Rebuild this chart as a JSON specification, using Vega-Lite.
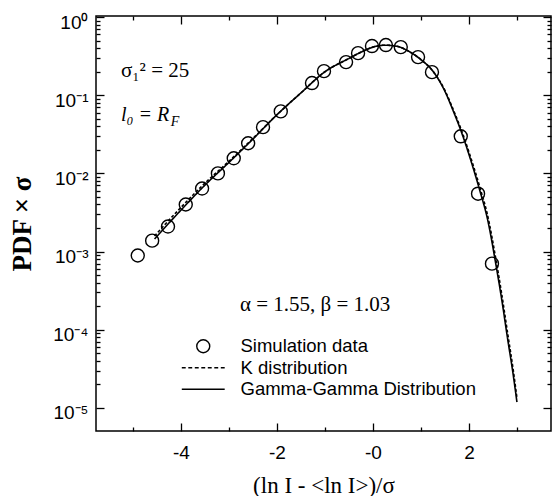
{
  "$schema": "https://vega.github.io/schema/vega-lite/v6.json",
  "width": 455,
  "height": 415,
  "autosize": {"type": "none"},
  "padding": {"left": 96, "top": 16, "right": 1, "bottom": 65},
  "background": "white",
  "config": {
    "view": {"stroke": "black", "strokeWidth": 1.5},
    "axis": {
      "domain": false,
      "grid": false,
      "tickColor": "black",
      "tickWidth": 1.3,
      "labelColor": "black",
      "labelFont": "Liberation Sans",
      "labelFontSize": 19,
      "titleColor": "black"
    }
  },
  "datasets": {
    "sim": [
      {"x": -4.9, "y": 0.00089, "series": "Simulation data"},
      {"x": -4.6, "y": 0.00138, "series": "Simulation data"},
      {"x": -4.27, "y": 0.00209, "series": "Simulation data"},
      {"x": -3.9, "y": 0.004, "series": "Simulation data"},
      {"x": -3.56, "y": 0.0064, "series": "Simulation data"},
      {"x": -3.23, "y": 0.01, "series": "Simulation data"},
      {"x": -2.9, "y": 0.0156, "series": "Simulation data"},
      {"x": -2.6, "y": 0.0243, "series": "Simulation data"},
      {"x": -2.29, "y": 0.039, "series": "Simulation data"},
      {"x": -1.92, "y": 0.062, "series": "Simulation data"},
      {"x": -1.27, "y": 0.143, "series": "Simulation data"},
      {"x": -1.02, "y": 0.203, "series": "Simulation data"},
      {"x": -0.56, "y": 0.265, "series": "Simulation data"},
      {"x": -0.31, "y": 0.345, "series": "Simulation data"},
      {"x": -0.02, "y": 0.425, "series": "Simulation data"},
      {"x": 0.27, "y": 0.438, "series": "Simulation data"},
      {"x": 0.58, "y": 0.412, "series": "Simulation data"},
      {"x": 0.94, "y": 0.307, "series": "Simulation data"},
      {"x": 1.23, "y": 0.197, "series": "Simulation data"},
      {"x": 1.83, "y": 0.0298, "series": "Simulation data"},
      {"x": 2.19, "y": 0.0055, "series": "Simulation data"},
      {"x": 2.48, "y": 0.0007, "series": "Simulation data"}
    ],
    "curves": [
      {"x": -4.55, "y": 0.00145, "series": "Gamma-Gamma Distribution"},
      {"x": -4.0, "y": 0.00339, "series": "Gamma-Gamma Distribution"},
      {"x": -3.5, "y": 0.00708, "series": "Gamma-Gamma Distribution"},
      {"x": -3.0, "y": 0.0138, "series": "Gamma-Gamma Distribution"},
      {"x": -2.5, "y": 0.0275, "series": "Gamma-Gamma Distribution"},
      {"x": -2.0, "y": 0.0562, "series": "Gamma-Gamma Distribution"},
      {"x": -1.5, "y": 0.107, "series": "Gamma-Gamma Distribution"},
      {"x": -1.0, "y": 0.1995, "series": "Gamma-Gamma Distribution"},
      {"x": -0.5, "y": 0.295, "series": "Gamma-Gamma Distribution"},
      {"x": -0.25, "y": 0.355, "series": "Gamma-Gamma Distribution"},
      {"x": 0.0, "y": 0.412, "series": "Gamma-Gamma Distribution"},
      {"x": 0.25, "y": 0.436, "series": "Gamma-Gamma Distribution"},
      {"x": 0.5, "y": 0.422, "series": "Gamma-Gamma Distribution"},
      {"x": 0.75, "y": 0.363, "series": "Gamma-Gamma Distribution"},
      {"x": 1.0, "y": 0.285, "series": "Gamma-Gamma Distribution"},
      {"x": 1.25, "y": 0.203, "series": "Gamma-Gamma Distribution"},
      {"x": 1.5, "y": 0.112, "series": "Gamma-Gamma Distribution"},
      {"x": 1.667, "y": 0.0643, "series": "Gamma-Gamma Distribution"},
      {"x": 1.875, "y": 0.0298, "series": "Gamma-Gamma Distribution"},
      {"x": 2.02, "y": 0.016, "series": "Gamma-Gamma Distribution"},
      {"x": 2.25, "y": 0.00538, "series": "Gamma-Gamma Distribution"},
      {"x": 2.375, "y": 0.00281, "series": "Gamma-Gamma Distribution"},
      {"x": 2.5625, "y": 0.000681, "series": "Gamma-Gamma Distribution"},
      {"x": 2.6875, "y": 0.000235, "series": "Gamma-Gamma Distribution"},
      {"x": 2.8125, "y": 0.0000723, "series": "Gamma-Gamma Distribution"},
      {"x": 2.917, "y": 0.0000281, "series": "Gamma-Gamma Distribution"},
      {"x": 3.0, "y": 0.0000119, "series": "Gamma-Gamma Distribution"},
      {"x": -4.55, "y": 0.001585, "series": "K distribution"},
      {"x": -4.0, "y": 0.00367, "series": "K distribution"},
      {"x": -3.5, "y": 0.0075, "series": "K distribution"},
      {"x": -3.0, "y": 0.0143, "series": "K distribution"},
      {"x": -2.5, "y": 0.028, "series": "K distribution"},
      {"x": -2.0, "y": 0.0562, "series": "K distribution"},
      {"x": -1.5, "y": 0.107, "series": "K distribution"},
      {"x": -1.0, "y": 0.1995, "series": "K distribution"},
      {"x": -0.5, "y": 0.295, "series": "K distribution"},
      {"x": -0.25, "y": 0.355, "series": "K distribution"},
      {"x": 0.0, "y": 0.412, "series": "K distribution"},
      {"x": 0.25, "y": 0.436, "series": "K distribution"},
      {"x": 0.5, "y": 0.422, "series": "K distribution"},
      {"x": 0.75, "y": 0.363, "series": "K distribution"},
      {"x": 1.0, "y": 0.285, "series": "K distribution"},
      {"x": 1.25, "y": 0.203, "series": "K distribution"},
      {"x": 1.5, "y": 0.115, "series": "K distribution"},
      {"x": 1.667, "y": 0.0668, "series": "K distribution"},
      {"x": 1.875, "y": 0.0316, "series": "K distribution"},
      {"x": 2.02, "y": 0.0172, "series": "K distribution"},
      {"x": 2.25, "y": 0.00596, "series": "K distribution"},
      {"x": 2.375, "y": 0.00316, "series": "K distribution"},
      {"x": 2.5625, "y": 0.000794, "series": "K distribution"},
      {"x": 2.6875, "y": 0.000275, "series": "K distribution"},
      {"x": 2.8125, "y": 0.0000851, "series": "K distribution"},
      {"x": 2.917, "y": 0.0000324, "series": "K distribution"},
      {"x": 3.0, "y": 0.0000135, "series": "K distribution"}
    ]
  },
  "layer": [
    {
      "data": {"name": "curves"},
      "mark": {"type": "line", "color": "black", "strokeWidth": 1.6, "interpolate": "monotone"},
      "encoding": {
        "x": {
          "field": "x", "type": "quantitative",
          "scale": {"domain": [-5.77, 3.71], "nice": false, "zero": false},
          "axis": {
            "orient": "bottom",
            "values": [-4, -2, 0, 2],
            "labelExpr": "datum.value == 0 ? '-0' : toString(datum.value)",
            "tickSize": 8,
            "offset": -8,
            "labelPadding": 12,
            "title": "(ln I - <ln I>)/σ",
            "titleFont": "Liberation Serif",
            "titleFontSize": 23,
            "titleFontWeight": "normal",
            "titlePadding": 12
          }
        },
        "y": {
          "field": "y", "type": "quantitative",
          "scale": {"type": "log", "domain": [0.00000507, 1.03], "nice": false},
          "axis": {
            "orient": "left",
            "values": [0.00001, 0.0001, 0.001, 0.01, 0.1, 1],
            "labelExpr": "'10' + ['⁰','⁻¹','⁻²','⁻³','⁻⁴','⁻⁵'][round(-log(datum.value)/LN10)]",
            "tickSize": 8,
            "offset": -8,
            "labelPadding": 8,
            "labelOffset": 5,
            "title": "PDF × σ",
            "titleFont": "Liberation Serif",
            "titleFontSize": 27,
            "titleFontWeight": "bold",
            "titlePadding": 16
          }
        },
        "strokeDash": {
          "field": "series", "type": "nominal",
          "scale": {"domain": ["K distribution", "Gamma-Gamma Distribution"], "range": [[3, 2], [1, 0]]},
          "legend": null
        }
      }
    },
    {
      "data": {"name": "sim"},
      "mark": {"type": "point", "filled": false, "color": "black", "size": 169, "strokeWidth": 1.4, "opacity": 1},
      "encoding": {
        "x": {
          "field": "x", "type": "quantitative",
          "axis": {"orient": "top", "values": [-4, -2, 0, 2], "labels": false, "tickSize": 8, "offset": -8, "title": null}
        },
        "y": {
          "field": "y", "type": "quantitative",
          "axis": {"orient": "right", "values": [0.00001, 0.0001, 0.001, 0.01, 0.1, 1], "labels": false, "tickSize": 8, "offset": -8, "title": null}
        },
        "shape": {
          "field": "series", "type": "nominal",
          "scale": {
            "domain": ["Simulation data", "K distribution", "Gamma-Gamma Distribution"],
            "range": ["circle", "M-3.3,0H-2.7M-2.3,0H-1.7M-1.3,0H-0.7M-0.3,0H0.3M0.7,0H1.3M1.7,0H2.3M2.7,0H3.3", "M-3.3,0H3.3"]
          },
          "legend": {
            "orient": "none",
            "legendX": 98,
            "legendY": 321,
            "title": null,
            "labelFont": "Liberation Sans",
            "labelFontSize": 18.5,
            "labelColor": "black",
            "labelOffset": 28,
            "labelLimit": 400,
            "symbolSize": 169,
            "symbolStrokeWidth": 1.4,
            "symbolStrokeColor": "black",
            "symbolFillColor": "transparent",
            "rowPadding": 2.5
          }
        }
      }
    },
    {
      "data": {"values": [{}]},
      "mark": {"type": "text", "font": "Liberation Serif", "fontSize": 21, "align": "left", "baseline": "alphabetic", "color": "black"},
      "encoding": {
        "x": {
          "datum": -5.25, "type": "quantitative",
          "axis": {"orient": "bottom", "values": [-5, -3, -1, 1, 3], "labels": false, "tickSize": 4, "offset": -4, "title": null}
        },
        "y": {
          "datum": 0.17, "type": "quantitative",
          "axis": {
            "orient": "left",
            "values": [0.00002, 0.00003, 0.00004, 0.00005, 0.00006, 0.00007, 0.00008, 0.00009,
                       0.0002, 0.0003, 0.0004, 0.0005, 0.0006, 0.0007, 0.0008, 0.0009,
                       0.002, 0.003, 0.004, 0.005, 0.006, 0.007, 0.008, 0.009,
                       0.02, 0.03, 0.04, 0.05, 0.06, 0.07, 0.08, 0.09,
                       0.2, 0.3, 0.4, 0.5, 0.6, 0.7, 0.8, 0.9],
            "labels": false, "tickSize": 4, "offset": -4, "title": null
          }
        },
        "text": {"value": "σ₁² = 25"}
      }
    },
    {
      "data": {"values": [{}]},
      "mark": {"type": "text", "font": "Liberation Serif", "fontSize": 20, "fontStyle": "italic", "align": "left", "baseline": "alphabetic", "color": "black"},
      "encoding": {
        "x": {
          "datum": -5.25, "type": "quantitative",
          "axis": {"orient": "top", "values": [-5, -3, -1, 1, 3], "labels": false, "tickSize": 4, "offset": -4, "title": null}
        },
        "y": {
          "datum": 0.0464, "type": "quantitative",
          "axis": {
            "orient": "right",
            "values": [0.00002, 0.00003, 0.00004, 0.00005, 0.00006, 0.00007, 0.00008, 0.00009,
                       0.0002, 0.0003, 0.0004, 0.0005, 0.0006, 0.0007, 0.0008, 0.0009,
                       0.002, 0.003, 0.004, 0.005, 0.006, 0.007, 0.008, 0.009,
                       0.02, 0.03, 0.04, 0.05, 0.06, 0.07, 0.08, 0.09,
                       0.2, 0.3, 0.4, 0.5, 0.6, 0.7, 0.8, 0.9],
            "labels": false, "tickSize": 4, "offset": -4, "title": null
          }
        },
        "text": {"value": "l₀ = R"}
      }
    },
    {
      "data": {"values": [{}]},
      "mark": {"type": "text", "font": "Liberation Serif", "fontSize": 14, "fontStyle": "italic", "align": "left", "baseline": "alphabetic", "color": "black"},
      "encoding": {
        "x": {"datum": -4.21, "type": "quantitative", "axis": null},
        "y": {"datum": 0.0401, "type": "quantitative", "axis": null},
        "text": {"value": "F"}
      }
    },
    {
      "data": {"values": [{}]},
      "mark": {"type": "text", "font": "Liberation Serif", "fontSize": 21, "align": "left", "baseline": "alphabetic", "color": "black"},
      "encoding": {
        "x": {"datum": -2.77, "type": "quantitative", "axis": null},
        "y": {"datum": 0.000175, "type": "quantitative", "axis": null},
        "text": {"value": "α = 1.55, β = 1.03"}
      }
    }
  ],
  "resolve": {"axis": {"x": "independent", "y": "independent"}}
}
